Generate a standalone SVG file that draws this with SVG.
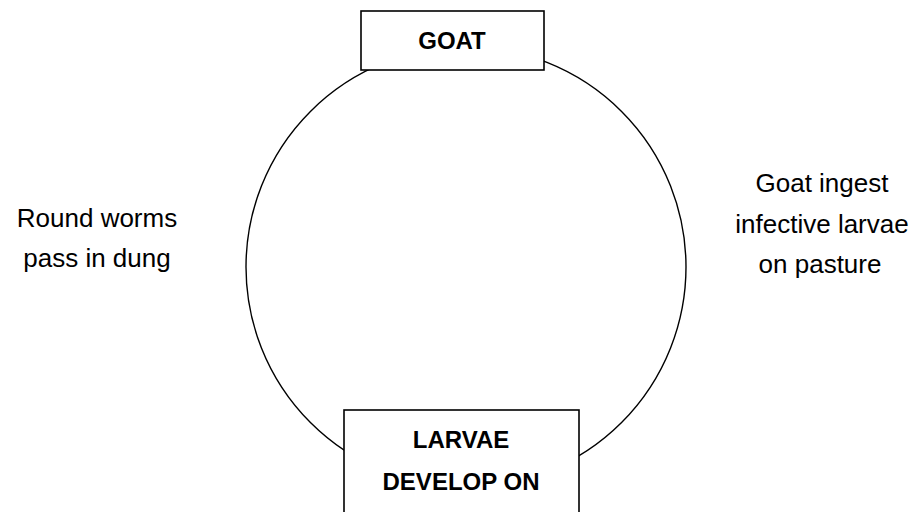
<svg xmlns="http://www.w3.org/2000/svg" width="916" height="512" viewBox="0 0 916 512">
<style>
.box{fill:#fff;stroke:#000;stroke-width:1.6}
.ring{fill:none;stroke:#000;stroke-width:1.4}
.b{font-family:"Liberation Sans",Arial,sans-serif;font-weight:bold;font-size:24px;fill:#000;text-anchor:middle}
.t{font-family:"Liberation Sans",Arial,sans-serif;font-size:26px;fill:#000;text-anchor:middle}
</style>
<rect width="916" height="512" fill="#fff"/>
<g id="connectors">
<circle class="ring" cx="466" cy="267" r="220"/>
</g>
<g id="goat">
<rect class="box" x="361" y="11" width="183" height="59"/>
<text class="b" x="452" y="49">GOAT</text>
</g>
<g id="larvae">
<rect class="box" x="344" y="410" width="235" height="110"/>
<text class="b" x="461" y="448">LARVAE</text>
<text class="b" x="461" y="490">DEVELOP ON</text>
</g>
<g id="label-left">
<text class="t" x="97" y="227">Round worms</text>
<text class="t" x="97" y="267">pass in dung</text>
</g>
<g id="label-right">
<text class="t" x="822" y="192">Goat ingest</text>
<text class="t" x="822" y="233">infective larvae</text>
<text class="t" x="820" y="273">on pasture</text>
</g>
</svg>
